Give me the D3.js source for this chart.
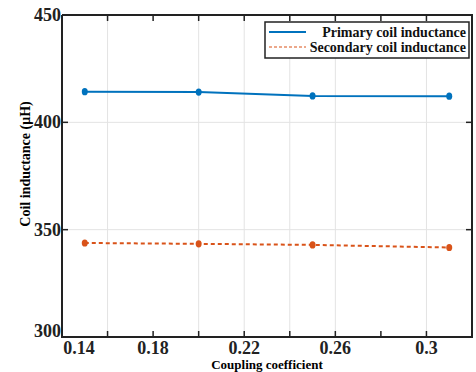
<!DOCTYPE html>
<html>
<head>
<meta charset="utf-8">
<script src="https://cdn.jsdelivr.net/npm/d3@7"></script>
<style>
  body { margin: 0; background: #fff; }
</style>
</head>
<body>
<svg id="chart" width="476" height="372"></svg>
<script>
// data
const coupling = [0.15, 0.20, 0.25, 0.31];
const primary = [414.3, 414.1, 412.3, 412.2];
const secondary = [343.8, 343.4, 342.9, 341.7];
const series_names = ['Primary coil inductance', 'Secondary coil inductance'];
const x_ticks = [0.14, 0.16, 0.18, 0.20, 0.22, 0.24, 0.26, 0.28, 0.30];
const x_labels = [0.14, 0.18, 0.22, 0.26, 0.3];
const x_grid = [0.16, 0.20, 0.22, 0.24, 0.26, 0.30];
const y_ticks = [300, 350, 400, 450];
const y_grid = [350, 400];

const font = "'Liberation Serif', serif";
const margin = {left: 62, top: 15, right: 4, bottom: 35};
const width = 476;
const plot_w = width - margin.left - margin.right;
const ph = 322;

const svg = d3.select('#chart');
const grp = svg.append('g')
    .attr('transform', 'translate(' + margin.left + ',' + margin.top + ')');

const x = d3.scaleLinear().domain([0.14, 0.32]).range([0, plot_w]);
const y = d3.scaleLinear().domain([300, 450]).range([ph, 0]);

// grid
grp.selectAll('.vgrid').data(x_grid).enter()
  .append('line')
    .attr('x1', d => x(d)).attr('x2', d => x(d))
    .attr('y1', 0).attr('y2', ph)
    .attr('stroke', '#e3e3e3').attr('stroke-width', 1);
grp.selectAll('.hgrid').data(y_grid).enter()
  .append('line')
    .attr('x1', 0).attr('x2', plot_w)
    .attr('y1', d => y(d)).attr('y2', d => y(d))
    .attr('stroke', '#e3e3e3').attr('stroke-width', 1);

// tick marks (inward, on all four sides)
const tk = 6;
x_ticks.slice(1).forEach(t => {
  grp.append('line').attr('x1', x(t)).attr('x2', x(t)).attr('y1', ph).attr('y2', ph - tk)
    .attr('stroke', '#222').attr('stroke-width', 1.5);
  grp.append('line').attr('x1', x(t)).attr('x2', x(t)).attr('y1', 0).attr('y2', tk)
    .attr('stroke', '#222').attr('stroke-width', 1.5);
});
y_ticks.slice(1, -1).forEach(t => {
  grp.append('line').attr('x1', 0).attr('x2', tk).attr('y1', y(t)).attr('y2', y(t))
    .attr('stroke', '#222').attr('stroke-width', 1.5);
  grp.append('line').attr('x1', plot_w).attr('x2', plot_w - tk).attr('y1', y(t)).attr('y2', y(t))
    .attr('stroke', '#222').attr('stroke-width', 1.5);
});

// box
grp.append('path')
    .attr('d', `M0,0H${plot_w}V${ph}H0V0`)
    .attr('fill', 'none')
    .attr('stroke', '#222')
    .attr('stroke-width', 2);

// tick labels
grp.selectAll('.xlab').data(x_labels).enter()
  .append('text')
    .attr('x', (d, i) => x(d) + (i === 0 ? 17 : 0))
    .attr('y', ph + 17)
    .attr('text-anchor', 'middle')
    .style('font-family', font).style('font-weight', 'bold')
    .style('font-size', '18px')
    .attr('fill', '#222')
    .text(d => d);
grp.selectAll('.ylab').data(y_ticks).enter()
  .append('text')
    .attr('x', -1)
    .attr('y', d => y(d) + 6 - (d === 300 ? 6 : 0))
    .attr('text-anchor', 'end')
    .style('font-family', font).style('font-weight', 'bold')
    .style('font-size', '18px')
    .attr('fill', '#222')
    .text(d => d);

// axis titles
svg.append('text')
    .attr('x', 267)
    .attr('y', 369)
    .attr('text-anchor', 'middle')
    .style('font-family', font).style('font-weight', 'bold')
    .style('font-size', '13px')
    .text('Coupling coefficient');
svg.append('text')
    .attr('transform', 'translate(30,164) rotate(-90)')
    .attr('text-anchor', 'middle')
    .style('font-family', font).style('font-weight', 'bold')
    .style('font-size', '14px')
    .text('Coil inductance (\u03bcH)');

// series
const colors = ['#0072BD', '#D95319'];
const dashes = [null, '4,3'];
const line = d3.line().x(d => x(d[0])).y(d => y(d[1]));
[primary, secondary].forEach((vals, k) => {
  const pts = coupling.map((c, i) => [c, vals[i]]);
  grp.append('path')
      .datum(pts)
      .attr('d', line)
      .attr('fill', 'none')
      .attr('stroke', colors[k])
      .attr('stroke-width', 2)
      .attr('stroke-dasharray', dashes[k]);
  grp.selectAll('.pt' + k).data(pts).enter()
    .append('ellipse')
      .attr('cx', d => x(d[0])).attr('cy', d => y(d[1]))
      .attr('rx', 3).attr('ry', 3.6)
      .attr('fill', colors[k]);
});

// legend
const lg = svg.append('g').attr('transform', 'translate(265,22)');
lg.append('rect')
    .attr('width', 204).attr('height', 36)
    .attr('fill', '#fff').attr('stroke', '#222').attr('stroke-width', 1.5);
series_names.forEach((name, k) => {
  const yy = 10 + k * 15;
  lg.append('line')
      .attr('x1', 4).attr('x2', 41).attr('y1', yy).attr('y2', yy)
      .attr('stroke', colors[k]).attr('stroke-width', k === 0 ? 2 : 1.2)
      .attr('stroke-dasharray', k === 0 ? null : '3,2');
  lg.append('text')
      .attr('x', 201).attr('y', yy + 5)
      .attr('text-anchor', 'end')
      .style('font-family', font).style('font-weight', 'bold')
      .style('font-size', '14px')
      .attr('fill', '#111')
      .text(name);
});
</script>
</body>
</html>
